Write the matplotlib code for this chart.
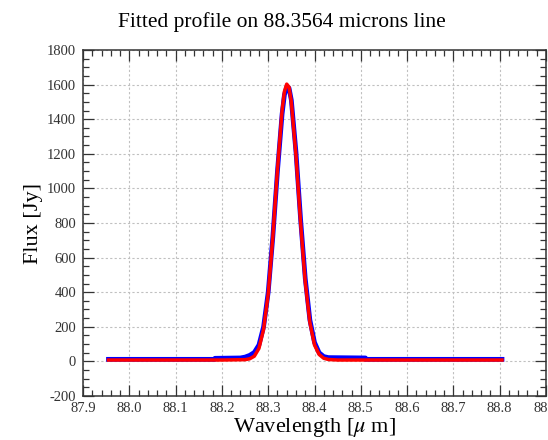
import matplotlib; matplotlib.use('agg')
import matplotlib.pyplot as plt
from matplotlib.ticker import MultipleLocator

plt.rcParams['font.family'] = ['Liberation Serif', 'DejaVu Serif']
plt.rcParams['mathtext.fontset'] = 'stix'
plt.rcParams['axes.unicode_minus'] = False

# observed spectrum (blue)
wl_obs = [87.955, 88.185, 88.185, 88.24, 88.25, 88.26, 88.27, 88.28, 88.29, 88.30,
          88.31, 88.32, 88.33, 88.335, 88.34, 88.345, 88.35, 88.36, 88.37, 88.38,
          88.39, 88.40, 88.41, 88.42, 88.43, 88.51, 88.51, 88.805]
flux_obs = [12, 12, 18, 20, 25, 35, 52, 95, 200, 400,
            720, 1100, 1430, 1540, 1585, 1580, 1510, 1210, 820, 480,
            240, 110, 50, 28, 22, 20, 12, 12]

# fitted profile (red)
wl_fit = [87.955, 88.20, 88.25, 88.26, 88.27, 88.28, 88.29, 88.30, 88.31, 88.32,
          88.33, 88.335, 88.34, 88.345, 88.35, 88.36, 88.37, 88.38, 88.39, 88.40,
          88.41, 88.42, 88.43, 88.45, 88.805]
flux_fit = [8, 8, 10, 15, 30, 75, 185, 390, 720, 1110,
            1450, 1560, 1603, 1585, 1500, 1190, 800, 460, 225, 95,
            40, 18, 11, 8, 8]

fig = plt.figure(figsize=(5.48, 4.4), dpi=100)
ax = fig.add_axes([83/548, 1-396/440, (546-83)/548, (396-50)/440])

ax.plot(wl_obs, flux_obs, '-', color='#0000ff', lw=3.4)
ax.plot(wl_fit, flux_fit, '-', color='#ff0000', lw=2.5)

ax.set_xlim(87.9, 88.9)
ax.set_ylim(-200, 1800)
ax.xaxis.set_major_locator(MultipleLocator(0.1))
ax.xaxis.set_minor_locator(MultipleLocator(0.02))
ax.yaxis.set_major_locator(MultipleLocator(200))
ax.yaxis.set_minor_locator(MultipleLocator(50))
ax.tick_params(which='both', direction='in', top=True, right=True, width=0.9, colors='#333333')
ax.tick_params(which='major', length=8, labelsize=10.5, labelcolor='#333333')
ax.tick_params(which='minor', length=4.3)
ax.tick_params(axis='x', pad=4)
ax.tick_params(axis='y', pad=5)
for s in ax.spines.values():
    s.set_linewidth(1.1)
    s.set_color('#333333')

ax.grid(True, which='major', linestyle=(0, (2, 2)), color='#c0c0c0', lw=0.8)

ax.set_xlabel(r'Wavelength [$\mu$ m]', fontsize=16, labelpad=1)
ax.set_ylabel('Flux [Jy]', fontsize=16, labelpad=3)
fig.text(282/548, 1-27/440, 'Fitted profile on 88.3564 microns line',
         fontsize=15.5, ha='center', va='baseline')

plt.savefig('out.png', dpi=100)
